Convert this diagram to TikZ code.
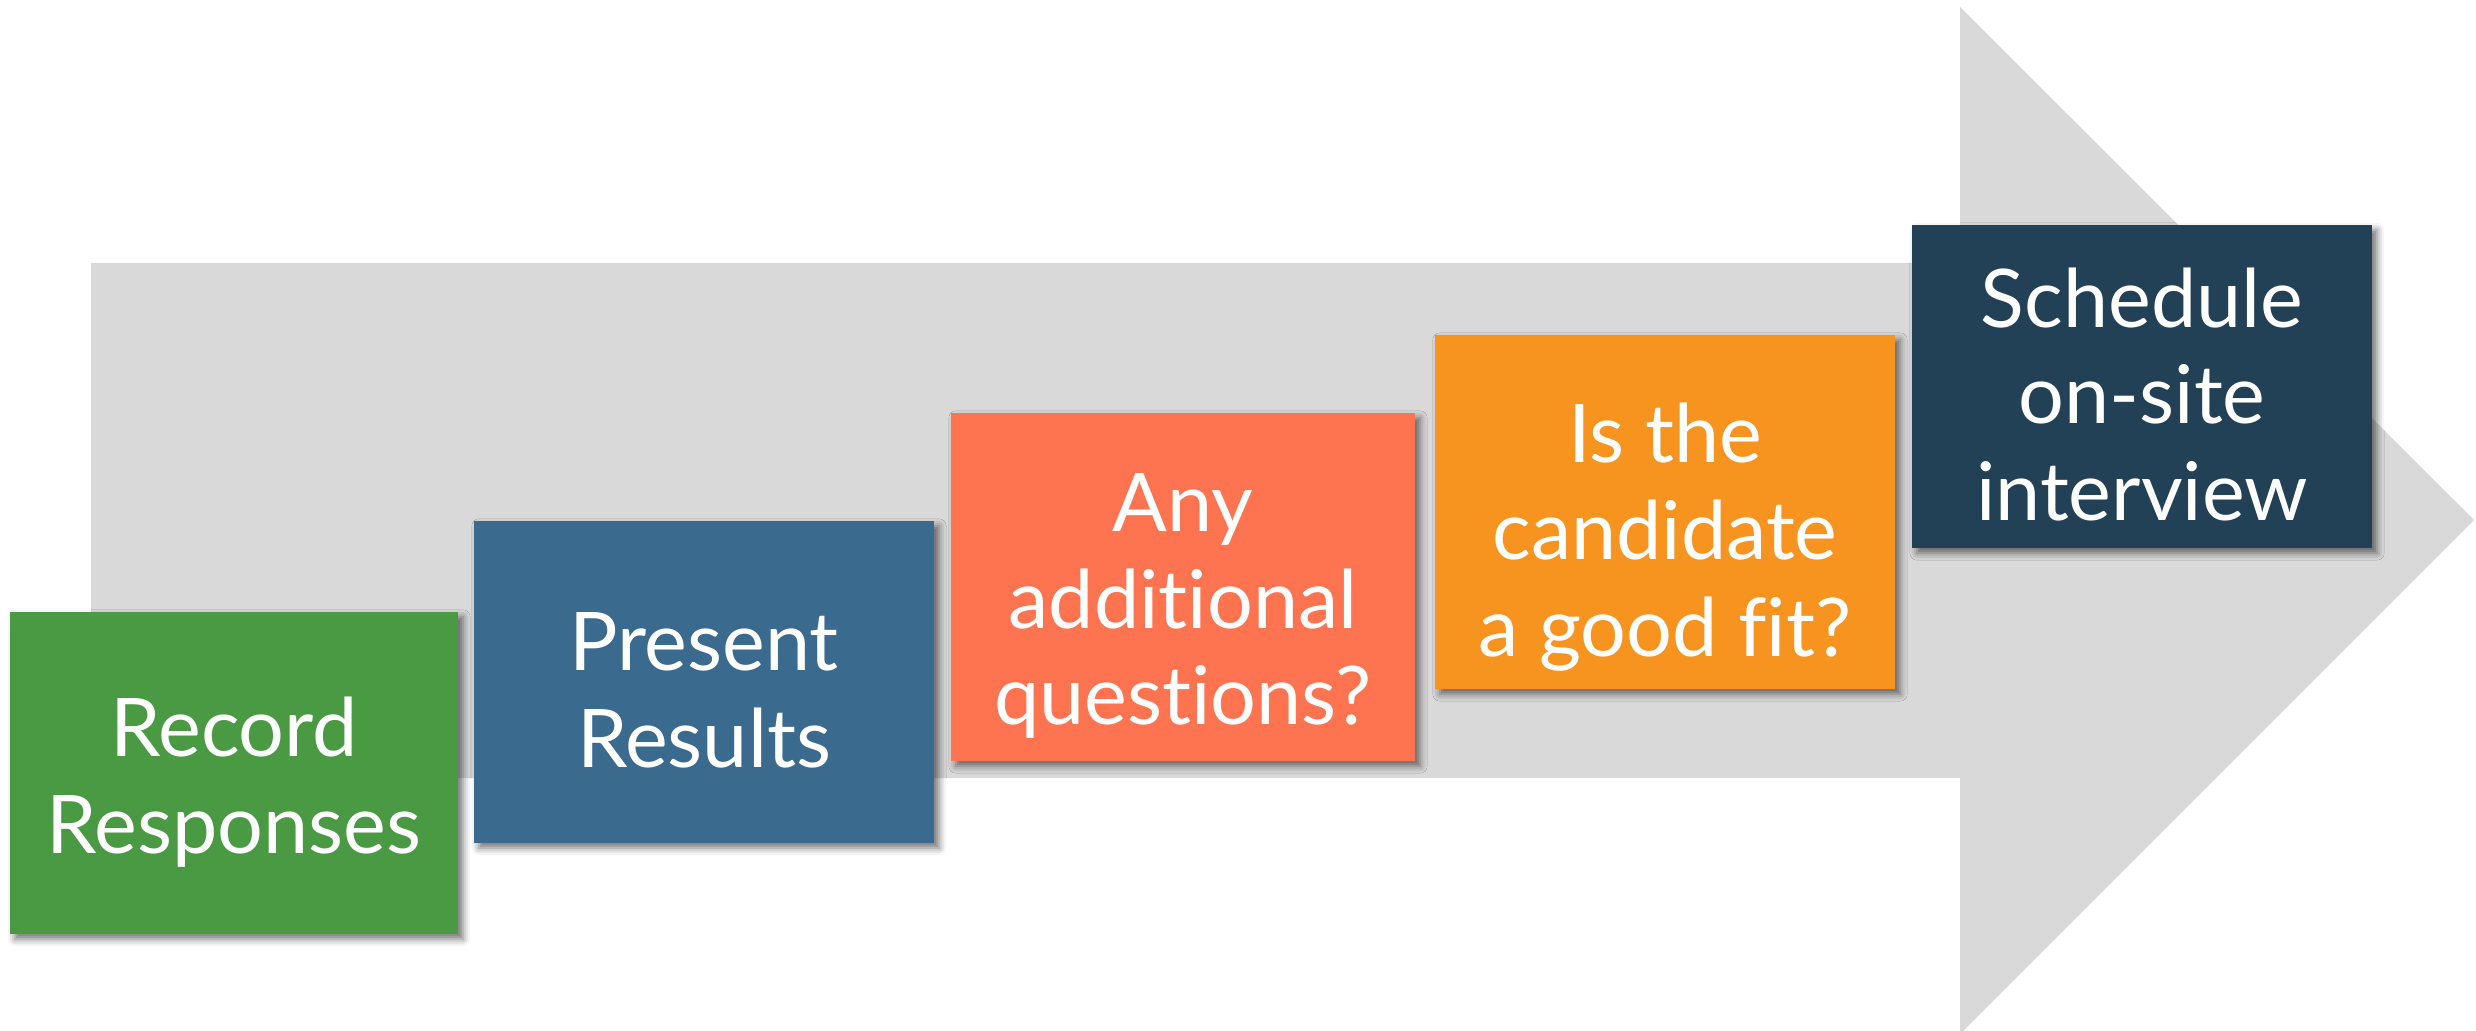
\documentclass[tikz,border=0pt]{standalone}
\usepackage{fontspec}
\setmainfont[Ligatures=NoCommon]{Lato}
\usetikzlibrary{shadows.blur}
\definecolor{bandgray}{HTML}{D9D9D9}
\definecolor{stepgreen}{HTML}{4A9A43}
\definecolor{stepblue}{HTML}{3A6A8E}
\definecolor{stepcoral}{HTML}{FF7450}
\definecolor{steporange}{HTML}{F79420}
\definecolor{stepnavy}{HTML}{224156}
\tikzset{
    stagebox/.style={
        rectangle,
        inner sep=0pt,
        minimum width=4.6cm,
        minimum height=3.22cm,
        blur shadow={shadow xshift=0.05cm, shadow yshift=-0.05cm,
                     shadow blur radius=0.07cm, shadow opacity=55}
    },
    stagetext/.style={
        inner sep=0pt,
        align=center,
        text=white,
        font=\fontsize{23}{27.5}\selectfont
    },
    recordbox/.style={stagebox, fill=stepgreen, minimum width=4.48cm},
    presentbox/.style={stagebox, fill=stepblue},
    questionbox/.style={stagebox, fill=stepcoral, minimum width=4.64cm, minimum height=3.48cm},
    fitbox/.style={stagebox, fill=steporange, minimum height=3.54cm},
    onsitebox/.style={stagebox, fill=stepnavy, minimum height=3.23cm}
}

\begin{document}
\begin{tikzpicture}[x=0.01cm, y=-0.01cm]
    \useasboundingbox (0,0) rectangle (2476,1031);

    % Big gray arrow behind the steps
    \fill[bandgray] (91,263) -- (1960,263) -- (1960,7) -- (2474,520)
        -- (1960,1034) -- (1960,778) -- (91,778) -- cycle;

    % Steps, left to right
    \node[recordbox] (record) at (234,773) {};
    \node[presentbox] (present) at (704,682) {};
    \node[questionbox] (questions) at (1183,587) {};
    \node[fitbox] (goodfit) at (1665,512) {};
    \node[onsitebox] (onsite) at (2142,386.5) {};

    % Texts, a little below the middle of each box
    \node[stagetext, yshift=-0.09cm] (recordtext) at (record) {Record\\Responses};
    \node[stagetext, yshift=-0.08cm] (presenttext) at (present) {Present\\Results};
    \node[stagetext, yshift=-0.19cm] (questionstext) at (questions) {Any\\additional\\questions?};
    \node[stagetext, yshift=-0.25cm] (goodfittext) at (goodfit) {Is the\\candidate\\a good fit?};
    \node[stagetext, yshift=-0.08cm] (onsitetext) at (onsite) {Schedule\\on-site\\interview};
\end{tikzpicture}
\end{document}
